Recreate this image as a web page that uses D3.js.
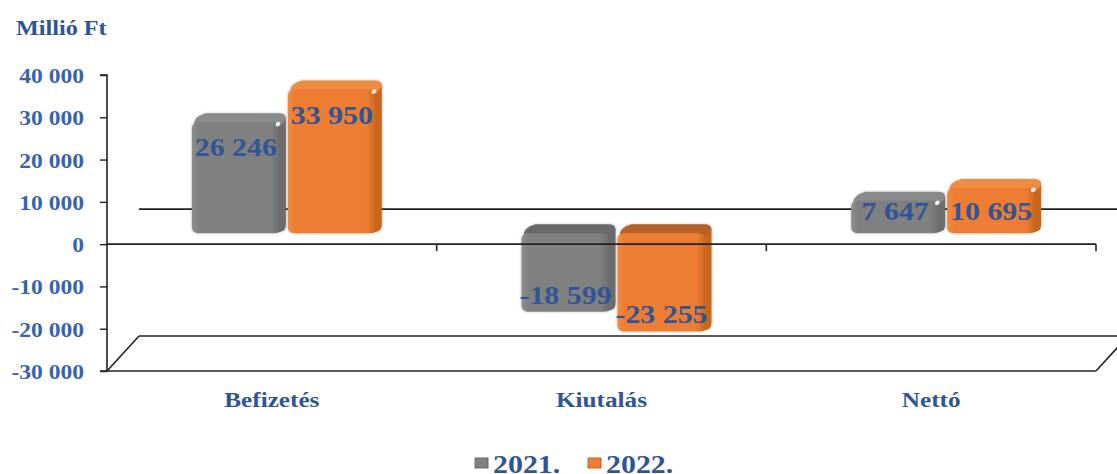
<!DOCTYPE html>
<html><head><meta charset="utf-8">
<script src="https://cdn.jsdelivr.net/npm/d3@7"></script>
<style>
html,body{margin:0;padding:0;background:#fff;}
text{font-family:"Liberation Serif","Times New Roman",serif;font-weight:bold;}
</style></head>
<body><svg id="c" width="1117" height="474"></svg>
<script>
const categories = ["Befizetés", "Kiutalás", "Nettó"];
const seriesNames = ["2021.", "2022."];
const values2021 = [26246, -18599, 7647];
const values2022 = [33950, -23255, 10695];
const yTickValues = [40000, 30000, 20000, 10000, 0, -10000, -20000, -30000];
const unitLabel = "Millió Ft";

(function(){
const locale = d3.formatLocale({decimal:",", thousands:" ", grouping:[3], currency:["",""], minus:"-"});
const fmt = locale.format(",d");

const W = 1117, H = 474;
const svg = d3.select("#c");
const blue = "#2F5597";
const tickBlue = "#3763B0";

const pLeft = 107, pRight = 1096, pTop = 75, pBottom = 371;
const DX = 32, DY = -35;         // depth offset of back wall
const BDX = 15, BDY = -11;       // offset of bar plane

const y = d3.scaleLinear().domain([-30000, 40000]).range([pBottom, pTop]);
const x0 = d3.scaleBand().domain(categories).range([pLeft, pRight]);
const groupW = 190;
const x1 = d3.scaleBand().domain(seriesNames).range([0, groupW]).paddingInner(0.02);

// horizontally stretched text helper
function stext(parent, x, yy, str, size, sx, anchor, fill){
  return parent.append("text")
    .attr("transform", `translate(${x},${yy}) scale(${sx},1)`)
    .attr("text-anchor", anchor).attr("font-size", size).attr("fill", fill).text(str);
}

const colors = {
  "2021.": {front:"#808080", light:"#8e8e8e", dark:"#6c6c6c", topPos:"#8a8a8a", topNeg:"#696969"},
  "2022.": {front:"#ED7D31", light:"#F28A40", dark:"#C9661F", topPos:"#F18B43", topNeg:"#B5622B"}
};

const defs = svg.append("defs");
seriesNames.forEach((s,i)=>{
  const c = colors[s];
  const g = defs.append("linearGradient").attr("id","gf"+i).attr("x1","0").attr("x2","1").attr("y1","0").attr("y2","0");
  g.append("stop").attr("offset","0").attr("stop-color",c.light);
  g.append("stop").attr("offset","0.08").attr("stop-color",c.front);
  g.append("stop").attr("offset","0.9").attr("stop-color",c.front);
  g.append("stop").attr("offset","1").attr("stop-color",c.dark);
});
const f = defs.append("filter").attr("id","sh").attr("x","-10%").attr("y","-10%").attr("width","120%").attr("height","120%");
f.append("feDropShadow").attr("dx",0).attr("dy",0).attr("stdDeviation",1.5).attr("flood-color","#000").attr("flood-opacity",0.25);

// unit label
stext(svg, 16, 35, unitLabel, 22, 1.1, "start", blue);

// back wall zero line & floor
const back = svg.append("g").attr("stroke","#222").attr("stroke-width",1.6).attr("fill","none");
back.append("line").attr("x1",pLeft+DX).attr("x2",W).attr("y1",y(0)+DY).attr("y2",y(0)+DY);
back.append("line").attr("x1",pLeft+DX).attr("x2",W).attr("y1",y(-30000)+DY).attr("y2",y(-30000)+DY);
back.append("line").attr("x1",pLeft).attr("x2",pLeft+DX).attr("y1",y(-30000)).attr("y2",y(-30000)+DY);
back.append("line").attr("x1",pRight).attr("x2",pRight+DX).attr("y1",y(-30000)).attr("y2",y(-30000)+DY);
back.append("line").attr("x1",pLeft).attr("x2",pRight).attr("y1",y(-30000)).attr("y2",y(-30000));

// bars
const data = [];
categories.forEach((c,ci)=>{
  data.push({cat:c, s:"2021.", si:0, v:values2021[ci]});
  data.push({cat:c, s:"2022.", si:1, v:values2022[ci]});
});
const offsetInBand = (x0.bandwidth()-groupW)/2 + BDX;
const bars = svg.append("g");
const sideD = 6, topD = 9;
data.forEach(d=>{
  const c = colors[d.s];
  const bx = x0(d.cat) + offsetInBand + x1(d.s);
  const bw = x1.bandwidth() - sideD;
  const y0 = y(0) + BDY, yv = y(d.v) + BDY;
  const yT = Math.min(y0, yv), yB = Math.max(y0, yv);
  const g = bars.append("g").attr("filter","url(#sh)");
  const tcol = d.v >= 0 ? c.topPos : c.topNeg;
  g.append("path").attr("fill",c.dark)
    .attr("d",`M${bx+bw-4},${yT} L${bx+bw+sideD-2},${yT-topD+2} Q${bx+bw+sideD},${yT-topD+3} ${bx+bw+sideD},${yT-topD+6} L${bx+bw+sideD},${yB-topD} Q${bx+bw+sideD},${yB-topD+6} ${bx+bw+2},${yB-2} L${bx+bw-4},${yB} Z`);
  g.append("path").attr("fill",tcol)
    .attr("d",`M${bx+2},${yT+3} Q${bx+2},${yT-topD+3} ${bx+sideD+8},${yT-topD} L${bx+bw+sideD-6},${yT-topD} Q${bx+bw+sideD},${yT-topD} ${bx+bw+sideD},${yT-topD+6} L${bx+bw},${yT+4} Z`);
  g.append("rect").attr("x",bx).attr("y",yT).attr("width",bw).attr("height",yB-yT)
    .attr("rx",6).attr("ry",6).attr("fill",`url(#gf${d.si})`);
  if (d.v >= 0) {
    bars.append("ellipse").attr("cx",bx+bw-2).attr("cy",yT+2).attr("rx",2.5).attr("ry",2)
      .attr("transform",`rotate(-35,${bx+bw-2},${yT+2})`)
      .attr("fill","#fff").attr("opacity",0.9);
  }
  d.bx = bx; d.bw = bw; d.yT = yT; d.yB = yB;
});

// front zero line with category ticks
const front = svg.append("g").attr("stroke","#222").attr("stroke-width",1.6);
front.append("line").attr("x1",pLeft).attr("x2",pRight).attr("y1",y(0)).attr("y2",y(0));
categories.forEach(c=>{
  const xe = x0(c) + x0.bandwidth();
  front.append("line").attr("x1",xe).attr("x2",xe).attr("y1",y(0)).attr("y2",y(0)+7);
});

// y axis
const yAxis = d3.axisLeft(y).tickValues(yTickValues).tickSize(7).tickFormat(()=>"");
const ya = svg.append("g").attr("transform",`translate(${pLeft},0)`).call(yAxis);
ya.select(".domain").attr("stroke","#222").attr("stroke-width",1.6).attr("d",`M-7,${pTop}H0V${pBottom}H-7`);
ya.selectAll(".tick line").attr("stroke","#222").attr("stroke-width",1.4);
ya.selectAll(".tick").each(function(v){
  stext(d3.select(this), -23, 7.5, fmt(v), 22, 1.07, "end", tickBlue);
});

// data labels
const lab = svg.append("g");
data.forEach(d=>{
  const cx = d.bx + d.bw/2;
  const ly = d.v >= 0 ? Math.min(d.yT + 34, d.yB - 13) : d.yB - 8;
  stext(lab, cx, ly, fmt(d.v), 26, 1.15, "middle", blue);
});

// category labels
categories.forEach(c=>{
  stext(svg, x0(c)+x0.bandwidth()/2, 407, c, 21, 1.2, "middle", blue);
});

// legend
const leg = svg.append("g");
const legX = [475, 588];
seriesNames.forEach((s,i)=>{
  const c = colors[s];
  leg.append("rect").attr("x",legX[i]).attr("y",458).attr("width",13).attr("height",10)
    .attr("fill",`url(#gf${i})`).attr("stroke",c.dark).attr("stroke-width",1);
  stext(leg, legX[i]+18, 473, s, 26, 1.15, "start", blue);
});
})();
</script></body></html>
